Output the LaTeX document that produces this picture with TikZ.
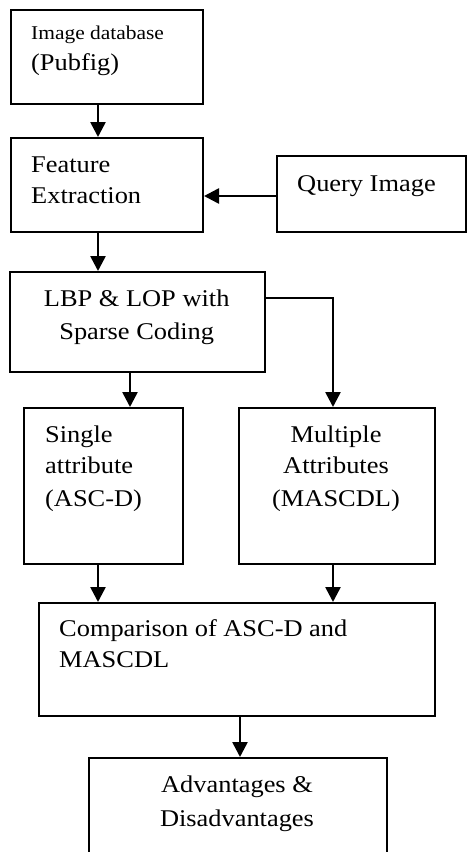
\documentclass[tikz,border=0pt]{standalone}
\usepackage{fontspec}
\setmainfont[FakeStretch=1.1]{Liberation Serif}
\usetikzlibrary{arrows.meta}
\begin{document}
\begin{tikzpicture}[x=1pt,y=-1pt,
  box/.style={draw=black,line width=2pt,rectangle},
  arr/.style={draw=black,line width=2.6pt,-{Triangle[length=15pt,width=15pt]}},
  txt/.style={inner sep=0pt,font=\fontsize{24}{28}\selectfont},
  small/.style={inner sep=0pt,font=\fontsize{19.5}{23}\selectfont}]
\useasboundingbox (0,0) rectangle (467,852);
\clip (0,0) rectangle (467,852);
% boxes
\node[box,minimum width=192pt,minimum height=94pt,anchor=north west] (b1) at (10,9) {};
\node[box,minimum width=192pt,minimum height=94pt,anchor=north west] (b2) at (10,137) {};
\node[box,minimum width=189pt,minimum height=76pt,anchor=north west] (q) at (276,155) {};
\node[box,minimum width=255pt,minimum height=100pt,anchor=north west] (b3) at (9,271) {};
\node[box,minimum width=159pt,minimum height=156pt,anchor=north west] (b4) at (23,407) {};
\node[box,minimum width=196pt,minimum height=156pt,anchor=north west] (b5) at (238,407) {};
\node[box,minimum width=396pt,minimum height=113pt,anchor=north west] (b6) at (38,602) {};
\node[box,minimum width=298pt,minimum height=120pt,anchor=north west] (b7) at (88,757) {};
% texts
\node[small,anchor=base west] (t1a) at (31,39) {Image database};
\node[txt,anchor=base west] (t1b) at (31,70) {(Pubfig)};
\node[txt,anchor=base west] (t2a) at (31,172) {Feature};
\node[txt,anchor=base west] (t2b) at (31,203) {Extraction};
\node[txt,anchor=base west] (tq) at (297,191) {Query Image};
\node[txt,anchor=base] (t3a) at (136.7,306) {LBP \& LOP with};
\node[txt,anchor=base] (t3b) at (136.7,339) {Sparse Coding};
\node[txt,anchor=base west] (t4a) at (45,442) {Single};
\node[txt,anchor=base west] (t4b) at (45,473) {attribute};
\node[txt,anchor=base west] (t4c) at (45,506) {(ASC-D)};
\node[txt,anchor=base] (t5a) at (336,442) {Multiple};
\node[txt,anchor=base] (t5b) at (336,473) {Attributes};
\node[txt,anchor=base] (t5c) at (336,506) {(MASCDL)};
\node[txt,anchor=base west] (t6a) at (59,636) {Comparison of ASC-D and};
\node[txt,anchor=base west] (t6b) at (59,667) {MASCDL};
\node[txt,anchor=base] (t7a) at (237,792) {Advantages \&};
\node[txt,anchor=base] (t7b) at (237,826) {Disadvantages};
% connectors
\draw[arr] ([xshift=88pt]b1.south west) -- ([xshift=88pt]b2.north west);
\draw[arr] ([yshift=-2pt]q.west) -- ([yshift=-2pt]q.west -| b2.east);
\draw[arr] ([xshift=88pt]b2.south west) -- ([xshift=89pt]b3.north west);
\draw[arr] ([xshift=121pt]b3.south west) -- ([xshift=107pt]b4.north west);
\draw[arr] ([yshift=24pt]b3.east) -| ([xshift=-4pt]b5.north);
\draw[arr] ([xshift=75pt]b4.south west) -- ([xshift=60pt]b6.north west);
\draw[arr] ([xshift=-4pt]b5.south) -- ([xshift=-4pt]b5.south |- b6.north);
\draw[arr] ([xshift=3pt]b6.south) -- ([xshift=3pt]b6.south |- b7.north);
\end{tikzpicture}
\end{document}
